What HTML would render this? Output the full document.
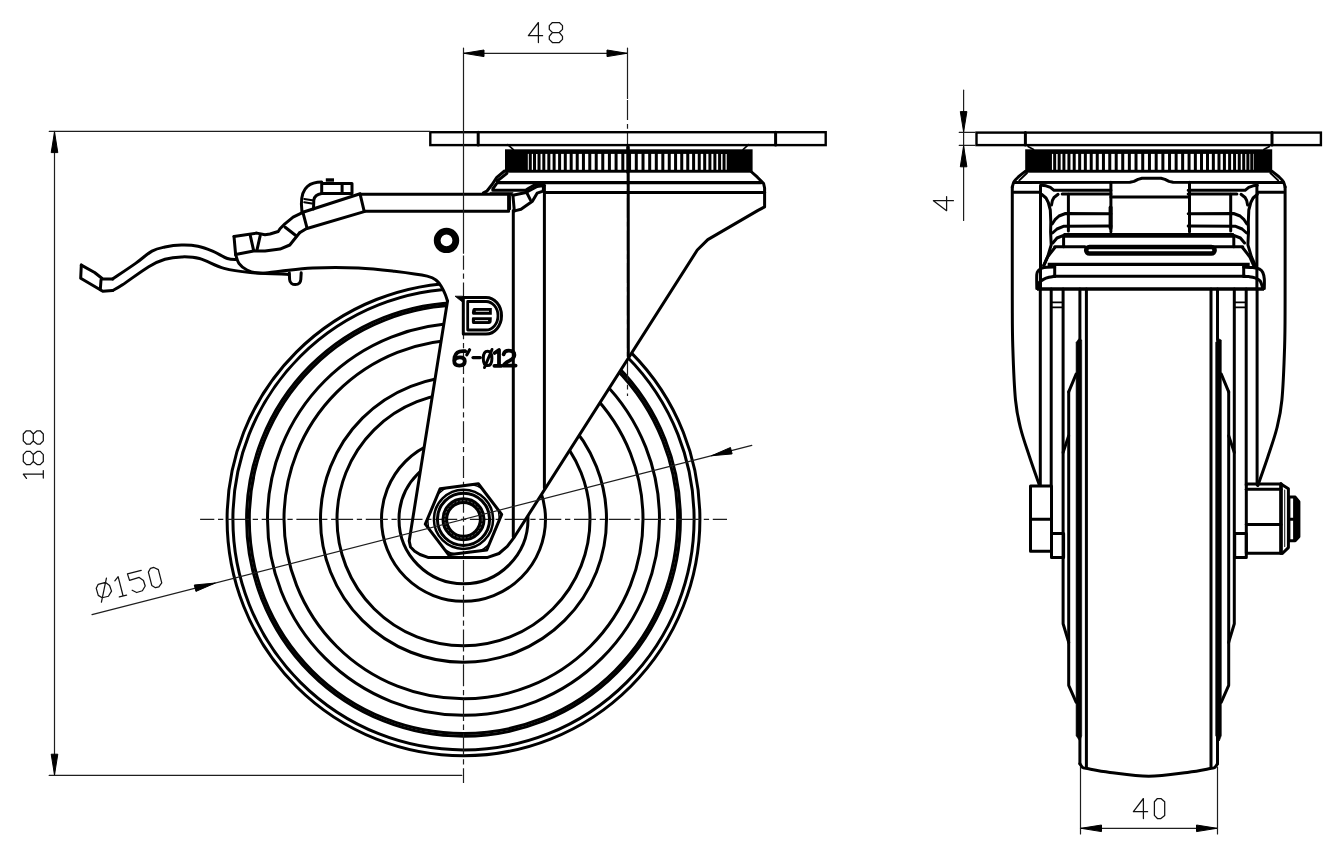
<!DOCTYPE html>
<html><head><meta charset="utf-8"><style>
html,body{margin:0;padding:0;background:#fff;width:1342px;height:856px;overflow:hidden;font-family:"Liberation Sans",sans-serif;}
svg{display:block;}
</style></head><body>
<svg width="1342" height="856" viewBox="0 0 1342 856">
<rect width="1342" height="856" fill="#fff"/>
<circle cx="463.50" cy="519.30" r="64.50" fill="none" stroke="#000" stroke-width="3.0" />
<circle cx="463.50" cy="519.30" r="82.00" fill="none" stroke="#000" stroke-width="3.0" />
<circle cx="463.50" cy="519.30" r="126.50" fill="none" stroke="#000" stroke-width="3.0" />
<circle cx="463.50" cy="519.30" r="143.00" fill="none" stroke="#000" stroke-width="3.0" />
<circle cx="463.50" cy="519.30" r="179.50" fill="none" stroke="#000" stroke-width="3.0" />
<circle cx="463.50" cy="519.30" r="196.00" fill="none" stroke="#000" stroke-width="3.0" />
<circle cx="463.50" cy="519.30" r="214.20" fill="none" stroke="#000" stroke-width="3.0" />
<circle cx="463.50" cy="519.30" r="216.90" fill="none" stroke="#000" stroke-width="3.0" />
<circle cx="463.50" cy="519.30" r="230.60" fill="none" stroke="#000" stroke-width="3.0" />
<circle cx="463.50" cy="519.30" r="236.40" fill="none" stroke="#000" stroke-width="3.0" />
<polygon points="395.00,268.00 427.20,276.10 437.00,281.00 441.90,287.50 447.50,301.00 409.20,541.00 410.50,547.00 414.70,551.30 420.00,554.50 428.60,557.60 487.00,557.60 499.00,553.50 507.30,546.30 514.50,536.80 697.30,250.00 707.80,239.60 720.00,200.00 395.00,200.00" fill="#fff" stroke="none"/>
<line x1="200.1" y1="519.3" x2="727" y2="519.3" stroke="#1e1e1e" stroke-width="1.2" stroke-dasharray="22 3.7 5.3 3.7" stroke-dashoffset="7.8"/>
<line x1="463.5" y1="255.6" x2="463.5" y2="783" stroke="#1e1e1e" stroke-width="1.2" stroke-dasharray="22 3.7 5.3 3.7" stroke-dashoffset="7.8"/>
<line x1="627.5" y1="100" x2="627.5" y2="396" stroke="#1e1e1e" stroke-width="1.2" stroke-dasharray="20 3.9 4.8 3.9"/>
<polyline points="447.50,301.00 409.20,541.00 410.50,547.00 414.70,551.30 420.00,554.50 428.60,557.60 487.00,557.60 499.00,553.50 507.30,546.30 514.50,536.80 697.30,250.00 707.80,239.60 758.00,210.40 764.60,206.90 764.60,188.00 763.60,183.50 757.40,177.20 751.60,172.00" fill="none" stroke="#000" stroke-width="3.0" stroke-linejoin="round" stroke-linecap="round" />
<line x1="513.30" y1="210.60" x2="513.30" y2="537.00" stroke="#000" stroke-width="3.0" stroke-linecap="round" />
<line x1="544.40" y1="185.30" x2="544.40" y2="488.00" stroke="#000" stroke-width="3.0" stroke-linecap="round" />
<line x1="628.20" y1="147.00" x2="628.30" y2="356.30" stroke="#000" stroke-width="3.0" stroke-linecap="round" />
<line x1="497.50" y1="182.70" x2="761.00" y2="182.70" stroke="#000" stroke-width="3.3" stroke-linecap="round" />
<polyline points="506.90,173.40 497.50,180.80 497.50,182.50" fill="none" stroke="#000" stroke-width="3.0" stroke-linejoin="round" stroke-linecap="round" />
<line x1="545.80" y1="192.40" x2="764.60" y2="192.40" stroke="#000" stroke-width="3.0" stroke-linecap="round" />
<polyline points="504.50,171.00 496.80,177.40 492.10,184.50 486.80,191.20 483.40,192.80" fill="none" stroke="#000" stroke-width="3.0" stroke-linejoin="round" stroke-linecap="round" />
<polyline points="496.20,184.10 492.80,188.80 492.80,190.20 525.70,190.20 528.30,188.50 534.40,185.10 537.10,184.50 543.80,185.10" fill="none" stroke="#000" stroke-width="3.0" stroke-linejoin="round" stroke-linecap="round" />
<polyline points="512.90,195.20 526.00,192.50 537.10,186.50 543.80,185.50 543.10,191.20 537.10,193.20 532.40,201.20 521.00,209.30 515.60,210.60 513.60,211.30" fill="none" stroke="#000" stroke-width="3.0" stroke-linejoin="round" stroke-linecap="round" />
<line x1="512.90" y1="195.20" x2="514.30" y2="210.60" stroke="#000" stroke-width="3.0" stroke-linecap="round" />
<line x1="526.30" y1="191.80" x2="530.40" y2="199.90" stroke="#000" stroke-width="3.0" stroke-linecap="round" />
<polyline points="360.10,194.20 511.60,194.20" fill="none" stroke="#000" stroke-width="3.0" stroke-linejoin="round" stroke-linecap="round" />
<polyline points="508.60,194.20 508.60,211.30 364.20,211.30" fill="none" stroke="#000" stroke-width="3.0" stroke-linejoin="round" stroke-linecap="round" />
<line x1="360.10" y1="194.20" x2="364.20" y2="211.30" stroke="#000" stroke-width="3.0" stroke-linecap="round" />
<line x1="510.20" y1="195.90" x2="510.40" y2="209.20" stroke="#000" stroke-width="1.4" stroke-linecap="round" />
<line x1="490.10" y1="192.40" x2="512.90" y2="192.40" stroke="#1e1e1e" stroke-width="1.0" stroke-linecap="round" />
<polyline points="360.10,193.80 302.90,212.30" fill="none" stroke="#000" stroke-width="3.0" stroke-linejoin="round" stroke-linecap="round" />
<polyline points="364.20,211.60 306.20,228.70 299.60,232.80" fill="none" stroke="#000" stroke-width="3.0" stroke-linejoin="round" stroke-linecap="round" />
<line x1="302.90" y1="212.30" x2="307.00" y2="227.90" stroke="#000" stroke-width="3.0" stroke-linecap="round" />
<polyline points="302.90,212.30 293.10,217.20 284.90,223.80 280.00,228.70 278.20,231.50 270.00,234.00 265.00,234.80 256.90,233.10 234.00,236.40" fill="none" stroke="#000" stroke-width="3.0" stroke-linejoin="round" stroke-linecap="round" />
<polyline points="299.60,232.80 289.80,245.00 280.00,249.10 265.00,251.10 253.60,251.10 235.60,254.40" fill="none" stroke="#000" stroke-width="3.0" stroke-linejoin="round" stroke-linecap="round" />
<line x1="284.90" y1="227.00" x2="296.40" y2="236.00" stroke="#000" stroke-width="3.0" stroke-linecap="round" />
<line x1="234.00" y1="236.40" x2="235.60" y2="254.40" stroke="#000" stroke-width="3.0" stroke-linecap="round" />
<line x1="250.30" y1="235.60" x2="253.60" y2="250.30" stroke="#000" stroke-width="3.0" stroke-linecap="round" />
<line x1="260.20" y1="235.60" x2="256.90" y2="250.30" stroke="#000" stroke-width="3.0" stroke-linecap="round" />
<path d="M235.60,254.40 C236.15,255.90 237.00,260.80 238.90,263.40 C240.80,266.00 243.45,268.35 247.00,270.00 C250.55,271.65 254.70,273.10 260.20,273.30 C265.70,273.50 271.25,272.10 280.00,271.20 C288.75,270.30 299.62,268.45 312.70,267.90 C325.78,267.35 344.87,267.35 358.50,267.90 C372.13,268.45 383.05,269.83 394.50,271.20 C405.95,272.57 420.12,274.47 427.20,276.10 C434.28,277.73 434.55,279.10 437.00,281.00 C439.45,282.90 440.52,285.25 441.90,287.50 C443.28,289.75 444.37,292.25 445.30,294.50 C446.23,296.75 447.13,299.92 447.50,301.00" fill="none" stroke="#000" stroke-width="3.0" stroke-linejoin="round" stroke-linecap="round" />
<polyline points="81.30,265.10 94.60,272.50 102.80,279.00 112.60,279.00" fill="none" stroke="#000" stroke-width="3.0" stroke-linejoin="round" stroke-linecap="round" />
<path d="M112.60,279.00 C116.43,276.40 129.03,268.05 135.60,263.40 C142.17,258.75 147.10,253.83 152.00,251.10 C156.90,248.37 160.08,248.00 165.00,247.00 C169.92,246.00 176.02,245.23 181.50,245.10 C186.98,244.97 192.72,245.20 197.90,246.20 C203.08,247.20 207.68,249.05 212.60,251.10 C217.52,253.15 223.42,257.08 227.40,258.50 C231.38,259.92 234.98,259.42 236.50,259.60" fill="none" stroke="#000" stroke-width="3.0" stroke-linejoin="round" stroke-linecap="round" />
<polyline points="81.30,265.10 80.70,278.20 102.80,291.30 112.60,290.50" fill="none" stroke="#000" stroke-width="3.0" stroke-linejoin="round" stroke-linecap="round" />
<path d="M112.60,290.50 C114.25,289.55 116.48,288.77 122.50,284.80 C128.52,280.83 141.62,270.95 148.70,266.70 C155.78,262.45 159.53,260.93 165.00,259.30 C170.47,257.67 175.75,257.03 181.50,256.90 C187.25,256.77 192.40,256.58 199.50,258.50 C206.60,260.42 215.63,266.07 224.10,268.40 C232.57,270.73 239.48,271.50 250.30,272.50 C261.12,273.50 282.55,274.08 289.00,274.40" fill="none" stroke="#000" stroke-width="3.0" stroke-linejoin="round" stroke-linecap="round" />
<line x1="101.00" y1="280.00" x2="100.30" y2="289.70" stroke="#000" stroke-width="3.0" stroke-linecap="round" />
<path d="M302,212.3 L301.4,204 C301.4,196 303,190 307.5,186.3 C311,183.3 315.5,182 321.7,182" fill="none" stroke="#000" stroke-width="3.0" stroke-linejoin="round" stroke-linecap="round" />
<polyline points="321.70,183.50 352.00,183.50 352.00,193.60 321.70,193.60 321.70,183.50" fill="none" stroke="#000" stroke-width="3.0" stroke-linejoin="round" stroke-linecap="round" />
<line x1="342.10" y1="183.50" x2="342.10" y2="193.60" stroke="#000" stroke-width="3.0" stroke-linecap="round" />
<path d="M321.7,193.6 C317.5,194.2 314.5,196 313.8,200 L313.5,209" fill="none" stroke="#000" stroke-width="3.0" stroke-linejoin="round" stroke-linecap="round" />
<rect x="325.8" y="178.3" width="8.2" height="3.4" fill="#000"/>
<line x1="304.20" y1="202.20" x2="311.90" y2="203.40" stroke="#000" stroke-width="2.0" stroke-linecap="round" />
<line x1="304.20" y1="198.90" x2="312.30" y2="200.20" stroke="#000" stroke-width="2.0" stroke-linecap="round" />
<path d="M289.3,272.8 L289.6,279.5 C289.8,283 292.5,284.6 295.3,284.6 C298.2,284.6 300.6,283 300.8,279.5 L301.2,272.8" fill="none" stroke="#000" stroke-width="3.0" stroke-linejoin="round" stroke-linecap="round" />
<circle cx="446.50" cy="240.40" r="9.30" fill="none" stroke="#000" stroke-width="6.8" />
<rect x="430.3" y="132.2" width="395.4" height="12.9" fill="none" stroke="#000" stroke-width="2.4"/>
<line x1="478.20" y1="132.20" x2="478.20" y2="145.10" stroke="#000" stroke-width="3.0" stroke-linecap="round" />
<line x1="775.60" y1="132.20" x2="775.60" y2="145.10" stroke="#000" stroke-width="3.0" stroke-linecap="round" />
<line x1="507.70" y1="144.60" x2="513.40" y2="149.60" stroke="#000" stroke-width="1.6" stroke-linecap="round" />
<line x1="748.50" y1="144.60" x2="743.00" y2="149.60" stroke="#000" stroke-width="1.6" stroke-linecap="round" />
<rect x="505.00" y="149.3" width="247.60" height="23.4" fill="#000"/>
<line x1="528.33" y1="153.9" x2="528.33" y2="169.8" stroke="#fff" stroke-width="0.94"/>
<line x1="532.41" y1="153.9" x2="532.41" y2="169.8" stroke="#fff" stroke-width="1.23"/>
<line x1="536.78" y1="153.9" x2="536.78" y2="169.8" stroke="#fff" stroke-width="1.51"/>
<line x1="541.43" y1="153.9" x2="541.43" y2="169.8" stroke="#fff" stroke-width="1.78"/>
<line x1="546.33" y1="153.9" x2="546.33" y2="169.8" stroke="#fff" stroke-width="2.03"/>
<line x1="551.48" y1="153.9" x2="551.48" y2="169.8" stroke="#fff" stroke-width="2.26"/>
<line x1="556.86" y1="153.9" x2="556.86" y2="169.8" stroke="#fff" stroke-width="2.49"/>
<line x1="562.45" y1="153.9" x2="562.45" y2="169.8" stroke="#fff" stroke-width="2.69"/>
<line x1="568.23" y1="153.9" x2="568.23" y2="169.8" stroke="#fff" stroke-width="2.88"/>
<line x1="574.20" y1="153.9" x2="574.20" y2="169.8" stroke="#fff" stroke-width="3.05"/>
<line x1="580.33" y1="153.9" x2="580.33" y2="169.8" stroke="#fff" stroke-width="3.20"/>
<line x1="586.60" y1="153.9" x2="586.60" y2="169.8" stroke="#fff" stroke-width="3.34"/>
<line x1="593.00" y1="153.9" x2="593.00" y2="169.8" stroke="#fff" stroke-width="3.45"/>
<line x1="599.50" y1="153.9" x2="599.50" y2="169.8" stroke="#fff" stroke-width="3.55"/>
<line x1="606.09" y1="153.9" x2="606.09" y2="169.8" stroke="#fff" stroke-width="3.63"/>
<line x1="612.75" y1="153.9" x2="612.75" y2="169.8" stroke="#fff" stroke-width="3.68"/>
<line x1="619.45" y1="153.9" x2="619.45" y2="169.8" stroke="#fff" stroke-width="3.72"/>
<line x1="626.19" y1="153.9" x2="626.19" y2="169.8" stroke="#fff" stroke-width="3.74"/>
<line x1="632.93" y1="153.9" x2="632.93" y2="169.8" stroke="#fff" stroke-width="3.74"/>
<line x1="639.65" y1="153.9" x2="639.65" y2="169.8" stroke="#fff" stroke-width="3.72"/>
<line x1="646.35" y1="153.9" x2="646.35" y2="169.8" stroke="#fff" stroke-width="3.67"/>
<line x1="652.99" y1="153.9" x2="652.99" y2="169.8" stroke="#fff" stroke-width="3.61"/>
<line x1="659.57" y1="153.9" x2="659.57" y2="169.8" stroke="#fff" stroke-width="3.53"/>
<line x1="666.05" y1="153.9" x2="666.05" y2="169.8" stroke="#fff" stroke-width="3.43"/>
<line x1="672.42" y1="153.9" x2="672.42" y2="169.8" stroke="#fff" stroke-width="3.31"/>
<line x1="678.66" y1="153.9" x2="678.66" y2="169.8" stroke="#fff" stroke-width="3.17"/>
<line x1="684.75" y1="153.9" x2="684.75" y2="169.8" stroke="#fff" stroke-width="3.01"/>
<line x1="690.68" y1="153.9" x2="690.68" y2="169.8" stroke="#fff" stroke-width="2.84"/>
<line x1="696.43" y1="153.9" x2="696.43" y2="169.8" stroke="#fff" stroke-width="2.65"/>
<line x1="701.97" y1="153.9" x2="701.97" y2="169.8" stroke="#fff" stroke-width="2.44"/>
<line x1="707.30" y1="153.9" x2="707.30" y2="169.8" stroke="#fff" stroke-width="2.21"/>
<line x1="712.39" y1="153.9" x2="712.39" y2="169.8" stroke="#fff" stroke-width="1.97"/>
<line x1="717.24" y1="153.9" x2="717.24" y2="169.8" stroke="#fff" stroke-width="1.72"/>
<line x1="721.82" y1="153.9" x2="721.82" y2="169.8" stroke="#fff" stroke-width="1.45"/>
<line x1="726.13" y1="153.9" x2="726.13" y2="169.8" stroke="#fff" stroke-width="1.17"/>
<line x1="627.80" y1="147.00" x2="627.80" y2="172.20" stroke="#000" stroke-width="3.0" stroke-linecap="round" />
<defs><clipPath id="hexclip"><polygon points="501.69,514.41 486.83,549.93 448.64,554.82 425.31,524.19 440.17,488.67 478.36,483.78"/></clipPath></defs>
<polygon points="501.69,514.41 486.83,549.93 448.64,554.82 425.31,524.19 440.17,488.67 478.36,483.78" fill="none" stroke="#000" stroke-width="3.0" stroke-linejoin="round"/>
<circle cx="463.50" cy="519.30" r="35.80" fill="none" stroke="#000" stroke-width="1.5" clip-path="url(#hexclip)"/>
<circle cx="463.50" cy="519.30" r="29.60" fill="none" stroke="#000" stroke-width="2.5" />
<circle cx="463.50" cy="519.30" r="26.10" fill="none" stroke="#000" stroke-width="3.0" />
<circle cx="463.50" cy="519.30" r="18.70" fill="none" stroke="#000" stroke-width="6.6" />
<circle cx="463.5" cy="519.3" r="18.7" fill="none" stroke="#fff" stroke-width="0.5" stroke-opacity="0.7" stroke-dasharray="2.2 1.6"/>
<polygon points="455,296.2 462.8,296.2 462.8,302.3" fill="#000" stroke="#000" stroke-width="0.8" stroke-linejoin="round"/>
<path d="M463.3,297.5 L463.3,334 L486,334 A15.5,18.25 0 0 0 486,297.5 Z" fill="none" stroke="#000" stroke-width="3.0" stroke-linejoin="round" stroke-linecap="round" />
<path d="M467.7,301.5 L467.7,330 L486,330 A12,14.25 0 0 0 486,301.5 Z" fill="none" stroke="#000" stroke-width="2.8" stroke-linejoin="round" stroke-linecap="round" />
<path d="M474,308 L491.8,308 L491.8,314.7 L473.2,314.7 Q471.9,314.7 471.9,312.8 L472.3,310 Q472.8,308 474,308 Z" fill="#000"/>
<path d="M472.6,317.2 L491.8,317.2 L491.6,322 Q491,324 489,324 L473.2,324 Q471.9,324 471.9,322 L471.9,319 Q471.9,317.2 472.6,317.2 Z" fill="#000"/>
<line x1="475.8" y1="311.3" x2="489" y2="311.3" stroke="#fff" stroke-width="0.9"/>
<line x1="475" y1="320.6" x2="488.1" y2="320.6" stroke="#fff" stroke-width="0.9"/>
<path d="M465.2,351.2 C460,350.6 455.8,352.2 454.6,357 L454.2,360.8 C454.2,364.3 456.3,365.6 459.3,365.6 C462.6,365.6 464.8,364.2 464.8,361.3 C464.8,358.6 463,357.4 459.9,357.4 C457.2,357.4 455.3,358.3 454.4,360" fill="none" stroke="#000" stroke-width="3.8" stroke-linejoin="round" stroke-linecap="round" />
<path d="M469.6,349.8 L466.8,354.8" fill="none" stroke="#000" stroke-width="3.2" stroke-linejoin="round" stroke-linecap="round" />
<path d="M473,357.6 L480.3,357.6" fill="none" stroke="#000" stroke-width="3.2" stroke-linejoin="round" stroke-linecap="round" />
<path d="M487.6,351.2 C484.6,351.2 483.3,354 483.3,358.4 C483.3,362.8 484.8,365.6 487.6,365.6 C490.5,365.6 491.9,362.8 491.9,358.4 C491.9,354 490.5,351.2 487.6,351.2 Z M484.5,367.5 L492,349.5" fill="none" stroke="#000" stroke-width="3.0" stroke-linejoin="round" stroke-linecap="round" />
<path d="M494.6,353 L499,350 L499,365.6 M494.4,365.8 L501.4,365.8" fill="none" stroke="#000" stroke-width="3.8" stroke-linejoin="round" stroke-linecap="round" />
<path d="M503.6,354.4 C504.2,351.6 506.2,350.6 508.8,350.6 C512.4,350.6 514.4,352.2 514.4,355 C514.4,357.4 512.6,359 509.6,360.6 C506,362.4 504,363.6 503.6,365.6 L515.6,365.6" fill="none" stroke="#000" stroke-width="3.8" stroke-linejoin="round" stroke-linecap="round" />
<line x1="463.50" y1="48.00" x2="463.50" y2="253.20" stroke="#1e1e1e" stroke-width="1.2" stroke-linecap="round" />
<line x1="627.50" y1="48.00" x2="627.50" y2="98.40" stroke="#1e1e1e" stroke-width="1.2" stroke-linecap="round" />
<line x1="463.50" y1="53.30" x2="627.50" y2="53.30" stroke="#1e1e1e" stroke-width="1.2" stroke-linecap="round" />
<polygon points="464.00,53.30 484.00,50.00 484.00,56.60" fill="#000" stroke="#000" stroke-width="1" stroke-linejoin="round"/>
<polygon points="627.00,53.30 607.00,56.60 607.00,50.00" fill="#000" stroke="#000" stroke-width="1" stroke-linejoin="round"/>
<path transform="translate(528.40,42.50)" d="M10,0 V-20 L0,-6.8 H14.2" fill="none" stroke="#111" stroke-width="1.25" stroke-linejoin="round" stroke-linecap="round"/>
<path transform="translate(549.30,42.50)" d="M3.1,-20 H10 L13.2,-16.9 V-13.1 L10,-10 H3.1 L0,-13.1 V-16.9 Z M3.1,-10 H10 L13.2,-6.2 V-3.1 L10,0 H3.1 L0,-3.1 V-6.2 Z" fill="none" stroke="#111" stroke-width="1.25" stroke-linejoin="round" stroke-linecap="round"/>
<line x1="49.20" y1="131.30" x2="430.00" y2="131.30" stroke="#1e1e1e" stroke-width="1.2" stroke-linecap="round" />
<line x1="49.20" y1="775.40" x2="461.80" y2="775.40" stroke="#1e1e1e" stroke-width="1.2" stroke-linecap="round" />
<line x1="54.50" y1="131.40" x2="54.50" y2="775.40" stroke="#1e1e1e" stroke-width="1.2" stroke-linecap="round" />
<polygon points="54.50,131.90 57.80,152.60 51.20,152.60" fill="#000" stroke="#000" stroke-width="1" stroke-linejoin="round"/>
<polygon points="54.50,774.90 51.20,754.20 57.80,754.20" fill="#000" stroke="#000" stroke-width="1" stroke-linejoin="round"/>
<g transform="translate(43.3,478.4) rotate(-90)">
<path transform="translate(0.00,0.00)" d="M0,-16.8 L4.2,-20 V0 M0.3,0 H7.8" fill="none" stroke="#111" stroke-width="1.25" stroke-linejoin="round" stroke-linecap="round"/>
<path transform="translate(13.80,0.00)" d="M3.1,-20 H10 L13.2,-16.9 V-13.1 L10,-10 H3.1 L0,-13.1 V-16.9 Z M3.1,-10 H10 L13.2,-6.2 V-3.1 L10,0 H3.1 L0,-3.1 V-6.2 Z" fill="none" stroke="#111" stroke-width="1.25" stroke-linejoin="round" stroke-linecap="round"/>
<path transform="translate(34.40,0.00)" d="M3.1,-20 H10 L13.2,-16.9 V-13.1 L10,-10 H3.1 L0,-13.1 V-16.9 Z M3.1,-10 H10 L13.2,-6.2 V-3.1 L10,0 H3.1 L0,-3.1 V-6.2 Z" fill="none" stroke="#111" stroke-width="1.25" stroke-linejoin="round" stroke-linecap="round"/>
</g>
<line x1="92.00" y1="614.70" x2="751.80" y2="445.40" stroke="#1e1e1e" stroke-width="1.2" stroke-linecap="round" />
<polygon points="215.32,583.02 195.92,591.40 194.28,585.00" fill="#000" stroke="#000" stroke-width="1" stroke-linejoin="round"/>
<polygon points="711.48,455.78 730.48,447.50 732.12,453.90" fill="#000" stroke="#000" stroke-width="1" stroke-linejoin="round"/>
<g transform="translate(123.1,596) rotate(-14.4)">
<path transform="translate(-24.10,0.00)" d="M2.9,-17.5 L10.5,-17.5 L13.6,-13.5 L14.1,-7.6 L9.8,-3.4 L3.4,-3.5 L0.2,-6.8 L0,-14.1 Z M1.6,0.5 L12.4,-21.5" fill="none" stroke="#111" stroke-width="1.25" stroke-linejoin="round" stroke-linecap="round"/>
<path transform="translate(-4.20,0.00)" d="M0,-16.8 L4.2,-20 V0 M0.3,0 H7.8" fill="none" stroke="#111" stroke-width="1.25" stroke-linejoin="round" stroke-linecap="round"/>
<path transform="translate(9.70,0.00)" d="M14.2,-20.3 H0 L0.4,-13.5 L10.5,-14 L13.9,-10 L14.2,-4.2 L10.3,-0.3 L4.3,0 L0.5,-3.3" fill="none" stroke="#111" stroke-width="1.25" stroke-linejoin="round" stroke-linecap="round"/>
<path transform="translate(30.40,0.00)" d="M3,-20 H6.5 L10.3,-16.8 V-3.1 L6.5,0 H3 L0,-3.1 V-16.8 Z" fill="none" stroke="#111" stroke-width="1.25" stroke-linejoin="round" stroke-linecap="round"/>
</g>
<rect x="976.5" y="132.6" width="344.4" height="12.5" fill="none" stroke="#000" stroke-width="2.4"/>
<line x1="1025.40" y1="132.60" x2="1025.40" y2="145.10" stroke="#000" stroke-width="3.0" stroke-linecap="round" />
<line x1="1272.00" y1="132.60" x2="1272.00" y2="145.10" stroke="#000" stroke-width="3.0" stroke-linecap="round" />
<line x1="1028.00" y1="146.50" x2="1033.60" y2="149.50" stroke="#000" stroke-width="1.6" stroke-linecap="round" />
<line x1="1269.40" y1="146.50" x2="1263.80" y2="149.50" stroke="#000" stroke-width="1.6" stroke-linecap="round" />
<rect x="1025.20" y="149.3" width="247.00" height="23.4" fill="#000"/>
<line x1="1052.55" y1="153.9" x2="1052.55" y2="169.8" stroke="#fff" stroke-width="1.22"/>
<line x1="1056.91" y1="153.9" x2="1056.91" y2="169.8" stroke="#fff" stroke-width="1.50"/>
<line x1="1061.54" y1="153.9" x2="1061.54" y2="169.8" stroke="#fff" stroke-width="1.76"/>
<line x1="1066.43" y1="153.9" x2="1066.43" y2="169.8" stroke="#fff" stroke-width="2.02"/>
<line x1="1071.57" y1="153.9" x2="1071.57" y2="169.8" stroke="#fff" stroke-width="2.25"/>
<line x1="1076.93" y1="153.9" x2="1076.93" y2="169.8" stroke="#fff" stroke-width="2.47"/>
<line x1="1082.51" y1="153.9" x2="1082.51" y2="169.8" stroke="#fff" stroke-width="2.68"/>
<line x1="1088.28" y1="153.9" x2="1088.28" y2="169.8" stroke="#fff" stroke-width="2.87"/>
<line x1="1094.23" y1="153.9" x2="1094.23" y2="169.8" stroke="#fff" stroke-width="3.04"/>
<line x1="1100.35" y1="153.9" x2="1100.35" y2="169.8" stroke="#fff" stroke-width="3.19"/>
<line x1="1106.60" y1="153.9" x2="1106.60" y2="169.8" stroke="#fff" stroke-width="3.32"/>
<line x1="1112.98" y1="153.9" x2="1112.98" y2="169.8" stroke="#fff" stroke-width="3.44"/>
<line x1="1119.47" y1="153.9" x2="1119.47" y2="169.8" stroke="#fff" stroke-width="3.53"/>
<line x1="1126.05" y1="153.9" x2="1126.05" y2="169.8" stroke="#fff" stroke-width="3.61"/>
<line x1="1132.69" y1="153.9" x2="1132.69" y2="169.8" stroke="#fff" stroke-width="3.67"/>
<line x1="1139.38" y1="153.9" x2="1139.38" y2="169.8" stroke="#fff" stroke-width="3.71"/>
<line x1="1146.09" y1="153.9" x2="1146.09" y2="169.8" stroke="#fff" stroke-width="3.72"/>
<line x1="1152.82" y1="153.9" x2="1152.82" y2="169.8" stroke="#fff" stroke-width="3.72"/>
<line x1="1159.53" y1="153.9" x2="1159.53" y2="169.8" stroke="#fff" stroke-width="3.70"/>
<line x1="1166.21" y1="153.9" x2="1166.21" y2="169.8" stroke="#fff" stroke-width="3.66"/>
<line x1="1172.84" y1="153.9" x2="1172.84" y2="169.8" stroke="#fff" stroke-width="3.60"/>
<line x1="1179.39" y1="153.9" x2="1179.39" y2="169.8" stroke="#fff" stroke-width="3.51"/>
<line x1="1185.86" y1="153.9" x2="1185.86" y2="169.8" stroke="#fff" stroke-width="3.41"/>
<line x1="1192.21" y1="153.9" x2="1192.21" y2="169.8" stroke="#fff" stroke-width="3.29"/>
<line x1="1198.44" y1="153.9" x2="1198.44" y2="169.8" stroke="#fff" stroke-width="3.16"/>
<line x1="1204.52" y1="153.9" x2="1204.52" y2="169.8" stroke="#fff" stroke-width="3.00"/>
<line x1="1210.43" y1="153.9" x2="1210.43" y2="169.8" stroke="#fff" stroke-width="2.82"/>
<line x1="1216.16" y1="153.9" x2="1216.16" y2="169.8" stroke="#fff" stroke-width="2.63"/>
<line x1="1221.69" y1="153.9" x2="1221.69" y2="169.8" stroke="#fff" stroke-width="2.42"/>
<line x1="1227.01" y1="153.9" x2="1227.01" y2="169.8" stroke="#fff" stroke-width="2.20"/>
<line x1="1232.09" y1="153.9" x2="1232.09" y2="169.8" stroke="#fff" stroke-width="1.96"/>
<line x1="1236.92" y1="153.9" x2="1236.92" y2="169.8" stroke="#fff" stroke-width="1.71"/>
<line x1="1241.50" y1="153.9" x2="1241.50" y2="169.8" stroke="#fff" stroke-width="1.44"/>
<line x1="1245.79" y1="153.9" x2="1245.79" y2="169.8" stroke="#fff" stroke-width="1.16"/>
<line x1="1249.80" y1="153.9" x2="1249.80" y2="169.8" stroke="#fff" stroke-width="0.86"/>
<line x1="1253.51" y1="153.9" x2="1253.51" y2="169.8" stroke="#fff" stroke-width="0.56"/>
<path d="M1025.20,171.40 C1024.02,172.37 1019.97,175.48 1018.10,177.20 C1016.23,178.92 1014.97,180.07 1014.00,181.70 C1013.03,183.33 1012.58,186.12 1012.30,187.00" fill="none" stroke="#000" stroke-width="3.0" stroke-linejoin="round" stroke-linecap="round" />
<path d="M1012.30,187.00 C1012.30,205.83 1012.22,273.33 1012.30,300.00 C1012.38,326.67 1012.27,330.33 1012.80,347.00 C1013.33,363.67 1014.22,386.50 1015.50,400.00 C1016.78,413.50 1018.15,418.50 1020.50,428.00 C1022.85,437.50 1026.43,447.42 1029.60,457.00 C1032.77,466.58 1037.85,480.75 1039.50,485.50" fill="none" stroke="#000" stroke-width="3.0" stroke-linejoin="round" stroke-linecap="round" />
<path d="M1272.20,171.40 C1273.38,172.37 1277.43,175.48 1279.30,177.20 C1281.17,178.92 1282.43,180.07 1283.40,181.70 C1284.37,183.33 1284.82,186.12 1285.10,187.00" fill="none" stroke="#000" stroke-width="3.0" stroke-linejoin="round" stroke-linecap="round" />
<path d="M1285.10,187.00 C1285.10,205.83 1285.18,273.33 1285.10,300.00 C1285.02,326.67 1285.13,330.33 1284.60,347.00 C1284.07,363.67 1283.18,386.50 1281.90,400.00 C1280.62,413.50 1279.25,418.50 1276.90,428.00 C1274.55,437.50 1270.97,447.42 1267.80,457.00 C1264.63,466.58 1259.55,480.75 1257.90,485.50" fill="none" stroke="#000" stroke-width="3.0" stroke-linejoin="round" stroke-linecap="round" />
<polyline points="1027.00,173.00 1019.30,180.40" fill="none" stroke="#000" stroke-width="2" stroke-linejoin="round" stroke-linecap="round" />
<polyline points="1270.40,173.00 1278.10,180.40" fill="none" stroke="#000" stroke-width="2" stroke-linejoin="round" stroke-linecap="round" />
<polyline points="1014.00,182.40 1130.00,182.30 1134.00,181.40 1138.00,179.40 1142.00,178.30 1161.00,178.30 1165.00,179.40 1169.00,181.40 1173.00,182.30 1283.40,182.40" fill="none" stroke="#000" stroke-width="3.0" stroke-linejoin="round" stroke-linecap="round" />
<line x1="1014.00" y1="192.30" x2="1039.30" y2="192.30" stroke="#000" stroke-width="3.0" stroke-linecap="round" />
<line x1="1283.40" y1="192.30" x2="1258.10" y2="192.30" stroke="#000" stroke-width="3.0" stroke-linecap="round" />
<line x1="1040.50" y1="185.30" x2="1040.50" y2="289.00" stroke="#000" stroke-width="3.0" stroke-linecap="round" />
<line x1="1256.90" y1="185.30" x2="1256.90" y2="289.00" stroke="#000" stroke-width="3.0" stroke-linecap="round" />
<polyline points="1041.80,185.30 1046.00,185.80 1050.40,187.40 1054.00,190.30 1110.90,190.30" fill="none" stroke="#000" stroke-width="3.0" stroke-linejoin="round" stroke-linecap="round" />
<polyline points="1257.30,185.30 1253.10,185.80 1248.70,187.40 1245.10,190.30 1188.20,190.30" fill="none" stroke="#000" stroke-width="3.0" stroke-linejoin="round" stroke-linecap="round" />
<polyline points="1062.20,194.00 1110.90,194.00" fill="none" stroke="#000" stroke-width="3.0" stroke-linejoin="round" stroke-linecap="round" />
<polyline points="1236.90,194.00 1188.20,194.00" fill="none" stroke="#000" stroke-width="3.0" stroke-linejoin="round" stroke-linecap="round" />
<line x1="1068.40" y1="194.30" x2="1068.40" y2="230.90" stroke="#000" stroke-width="3.0" stroke-linecap="round" />
<line x1="1230.70" y1="194.30" x2="1230.70" y2="230.90" stroke="#000" stroke-width="3.0" stroke-linecap="round" />
<polyline points="1041.80,194.30 1046.00,198.00 1048.30,202.50 1050.30,210.00 1050.80,222.00 1050.60,232.00 1051.20,244.80 1047.70,256.70 1043.70,265.60" fill="none" stroke="#000" stroke-width="3.0" stroke-linejoin="round" stroke-linecap="round" />
<polyline points="1257.30,194.30 1253.10,198.00 1250.80,202.50 1248.80,210.00 1248.30,222.00 1248.50,232.00 1247.90,244.80 1251.40,256.70 1255.40,265.60" fill="none" stroke="#000" stroke-width="3.0" stroke-linejoin="round" stroke-linecap="round" />
<polyline points="1058.10,194.30 1054.00,197.50 1052.40,200.50 1051.50,205.00" fill="none" stroke="#000" stroke-width="3.0" stroke-linejoin="round" stroke-linecap="round" />
<polyline points="1241.00,194.30 1245.10,197.50 1246.70,200.50 1247.60,205.00" fill="none" stroke="#000" stroke-width="3.0" stroke-linejoin="round" stroke-linecap="round" />
<polyline points="1110.90,213.80 1065.50,213.50 1059.00,216.00 1055.00,219.70 1052.20,224.00" fill="none" stroke="#000" stroke-width="3.0" stroke-linejoin="round" stroke-linecap="round" />
<polyline points="1188.20,213.80 1233.60,213.50 1240.10,216.00 1244.10,219.70 1246.90,224.00" fill="none" stroke="#000" stroke-width="3.0" stroke-linejoin="round" stroke-linecap="round" />
<polyline points="1110.90,226.10 1064.00,226.20 1057.00,229.00 1052.50,233.00" fill="none" stroke="#000" stroke-width="3.0" stroke-linejoin="round" stroke-linecap="round" />
<polyline points="1188.20,226.10 1235.10,226.20 1242.10,229.00 1246.60,233.00" fill="none" stroke="#000" stroke-width="3.0" stroke-linejoin="round" stroke-linecap="round" />
<line x1="1063.6" y1="235.4" x2="1233.80" y2="235.4" stroke="#000" stroke-width="4.6"/>
<polyline points="1063.60,235.40 1057.00,238.00 1052.80,243.00" fill="none" stroke="#000" stroke-width="3.0" stroke-linejoin="round" stroke-linecap="round" />
<polyline points="1233.80,235.40 1240.40,238.00 1244.60,243.00" fill="none" stroke="#000" stroke-width="3.0" stroke-linejoin="round" stroke-linecap="round" />
<line x1="1063.60" y1="235.90" x2="1063.60" y2="246.80" stroke="#000" stroke-width="3.0" stroke-linecap="round" />
<line x1="1233.80" y1="235.90" x2="1233.80" y2="246.80" stroke="#000" stroke-width="3.0" stroke-linecap="round" />
<polyline points="1054.70,246.80 1085.00,246.80" fill="none" stroke="#000" stroke-width="3.0" stroke-linejoin="round" stroke-linecap="round" />
<polyline points="1242.70,246.80 1212.40,246.80" fill="none" stroke="#000" stroke-width="3.0" stroke-linejoin="round" stroke-linecap="round" />
<polyline points="1054.70,247.80 1047.70,256.70 1043.70,265.60" fill="none" stroke="#000" stroke-width="3.0" stroke-linejoin="round" stroke-linecap="round" />
<polyline points="1242.70,247.80 1249.70,256.70 1253.70,265.60" fill="none" stroke="#000" stroke-width="3.0" stroke-linejoin="round" stroke-linecap="round" />
<rect x="1086.2" y="247" width="128.4" height="6.5" rx="3.25" fill="none" stroke="#000" stroke-width="4.6"/>
<line x1="1047.7" y1="264.4" x2="1249.70" y2="264.4" stroke="#000" stroke-width="3.4"/>
<path d="M1036.80,288.50 C1036.80,286.17 1036.52,277.50 1036.80,274.50 C1037.08,271.50 1037.63,271.55 1038.50,270.50 C1039.37,269.45 1040.58,268.73 1042.00,268.20 C1043.42,267.67 1044.88,267.48 1047.00,267.30 C1049.12,267.12 1053.42,267.13 1054.70,267.10" fill="none" stroke="#000" stroke-width="3.0" stroke-linejoin="round" stroke-linecap="round" />
<path d="M1037.60,287.50 C1037.88,286.65 1038.32,283.77 1039.30,282.40 C1040.28,281.03 1041.88,280.15 1043.50,279.30 C1045.12,278.45 1047.13,277.78 1049.00,277.30 C1050.87,276.82 1053.75,276.55 1054.70,276.40" fill="none" stroke="#000" stroke-width="3.0" stroke-linejoin="round" stroke-linecap="round" />
<line x1="1054.70" y1="266.60" x2="1054.70" y2="276.20" stroke="#000" stroke-width="3.0" stroke-linecap="round" />
<path d="M1264.30,288.50 C1264.30,286.92 1264.55,281.67 1264.30,279.00 C1264.05,276.33 1263.58,274.13 1262.80,272.50 C1262.02,270.87 1261.23,270.03 1259.60,269.20 C1257.97,268.37 1255.65,267.85 1253.00,267.50 C1250.35,267.15 1245.25,267.17 1243.70,267.10" fill="none" stroke="#000" stroke-width="3.0" stroke-linejoin="round" stroke-linecap="round" />
<path d="M1262.60,287.70 C1262.20,286.58 1261.47,282.65 1260.20,281.00 C1258.93,279.35 1256.87,278.53 1255.00,277.80 C1253.13,277.07 1250.88,276.83 1249.00,276.60 C1247.12,276.37 1244.58,276.43 1243.70,276.40" fill="none" stroke="#000" stroke-width="3.0" stroke-linejoin="round" stroke-linecap="round" />
<line x1="1243.70" y1="266.60" x2="1243.70" y2="276.20" stroke="#000" stroke-width="3.0" stroke-linecap="round" />
<line x1="1052.7" y1="276.3" x2="1245.7" y2="276.3" stroke="#000" stroke-width="3.0"/>
<line x1="1037" y1="289" x2="1264.00" y2="289" stroke="#000" stroke-width="3.6"/>
<polyline points="1110.90,182.20 1110.90,231.80" fill="none" stroke="#000" stroke-width="3.0" stroke-linejoin="round" stroke-linecap="round" />
<polyline points="1189.50,182.20 1189.50,231.80" fill="none" stroke="#000" stroke-width="3.0" stroke-linejoin="round" stroke-linecap="round" />
<line x1="1110.90" y1="197.10" x2="1189.50" y2="197.10" stroke="#000" stroke-width="3.0" stroke-linecap="round" />
<line x1="1110.60" y1="207.50" x2="1110.60" y2="228.00" stroke="#000" stroke-width="4" stroke-linecap="round" />
<line x1="1040.30" y1="289.00" x2="1040.30" y2="484.70" stroke="#000" stroke-width="3.0" stroke-linecap="round" />
<line x1="1257.10" y1="289.00" x2="1257.10" y2="484.70" stroke="#000" stroke-width="3.0" stroke-linecap="round" />
<line x1="1051.20" y1="289.00" x2="1051.20" y2="485.00" stroke="#000" stroke-width="3.0" stroke-linecap="round" />
<line x1="1246.20" y1="289.00" x2="1246.20" y2="485.00" stroke="#000" stroke-width="3.0" stroke-linecap="round" />
<polyline points="1063.10,289.00 1063.10,623.70 1068.70,642.40 1068.70,685.30 1076.10,702.10" fill="none" stroke="#000" stroke-width="3.0" stroke-linejoin="round" stroke-linecap="round" />
<polyline points="1234.30,289.00 1234.30,623.70 1228.70,642.40 1228.70,685.30 1221.30,702.10" fill="none" stroke="#000" stroke-width="3.0" stroke-linejoin="round" stroke-linecap="round" />
<line x1="1068.70" y1="391.80" x2="1068.70" y2="642.40" stroke="#000" stroke-width="3.0" stroke-linecap="round" />
<line x1="1228.70" y1="391.80" x2="1228.70" y2="642.40" stroke="#000" stroke-width="3.0" stroke-linecap="round" />
<polyline points="1076.10,374.10 1068.70,391.80" fill="none" stroke="#000" stroke-width="3.0" stroke-linejoin="round" stroke-linecap="round" />
<polyline points="1221.30,374.10 1228.70,391.80" fill="none" stroke="#000" stroke-width="3.0" stroke-linejoin="round" stroke-linecap="round" />
<polyline points="1068.70,435.70 1063.10,452.50" fill="none" stroke="#000" stroke-width="3.0" stroke-linejoin="round" stroke-linecap="round" />
<polyline points="1228.70,435.70 1234.30,452.50" fill="none" stroke="#000" stroke-width="3.0" stroke-linejoin="round" stroke-linecap="round" />
<polygon points="1076.10,342.4 1078.90,338.7 1081.70,340 1081.70,735.7 1079.70,741 1076.10,735.7" fill="#000" stroke="#000" stroke-width="0.6"/>
<polygon points="1215.70,342.4 1218.50,338.7 1221.30,340 1221.30,735.7 1219.30,741 1215.70,735.7" fill="#000" stroke="#000" stroke-width="0.6"/>
<line x1="1079.90" y1="289.00" x2="1079.90" y2="340.00" stroke="#000" stroke-width="3.0" stroke-linecap="round" />
<line x1="1217.50" y1="289.00" x2="1217.50" y2="340.00" stroke="#000" stroke-width="3.0" stroke-linecap="round" />
<line x1="1079.90" y1="736.00" x2="1079.90" y2="763.70" stroke="#000" stroke-width="3.0" stroke-linecap="round" />
<line x1="1217.50" y1="736.00" x2="1217.50" y2="763.70" stroke="#000" stroke-width="3.0" stroke-linecap="round" />
<line x1="1086.40" y1="289.00" x2="1086.40" y2="767.40" stroke="#000" stroke-width="3.0" stroke-linecap="round" />
<line x1="1211.00" y1="289.00" x2="1211.00" y2="767.40" stroke="#000" stroke-width="3.0" stroke-linecap="round" />
<line x1="1052.00" y1="302.40" x2="1063.00" y2="302.40" stroke="#000" stroke-width="1.6" stroke-linecap="round" />
<line x1="1245.40" y1="302.40" x2="1234.40" y2="302.40" stroke="#000" stroke-width="1.6" stroke-linecap="round" />
<line x1="1052.00" y1="307.40" x2="1063.00" y2="307.40" stroke="#000" stroke-width="1.6" stroke-linecap="round" />
<line x1="1245.40" y1="307.40" x2="1234.40" y2="307.40" stroke="#000" stroke-width="1.6" stroke-linecap="round" />
<path d="M1079.90,763.70 C1080.35,764.32 1081.37,766.58 1082.60,767.40 C1083.83,768.22 1082.73,767.77 1087.30,768.60 C1091.87,769.43 1099.77,771.13 1110.00,772.40 C1120.23,773.67 1135.80,776.20 1148.70,776.20 C1161.60,776.20 1177.17,773.67 1187.40,772.40 C1197.63,771.13 1205.53,769.43 1210.10,768.60 C1214.67,767.77 1213.57,768.22 1214.80,767.40 C1216.03,766.58 1217.05,764.32 1217.50,763.70" fill="none" stroke="#000" stroke-width="3.0" stroke-linejoin="round" stroke-linecap="round" />
<polygon points="1030.50,486.00 1051.50,486.00 1051.50,551.20 1030.50,551.20" fill="none" stroke="#000" stroke-width="3.0" stroke-linejoin="round" stroke-linecap="round" />
<line x1="1030.50" y1="519.20" x2="1051.50" y2="519.20" stroke="#000" stroke-width="3.0" stroke-linecap="round" />
<polygon points="1051.50,533.40 1063.60,533.40 1063.60,557.50 1051.50,557.50" fill="none" stroke="#000" stroke-width="3.0" stroke-linejoin="round" stroke-linecap="round" />
<polygon points="1246.30,483.90 1281.00,483.90 1281.00,553.30 1246.30,553.30" fill="none" stroke="#000" stroke-width="3.0" stroke-linejoin="round" stroke-linecap="round" />
<line x1="1246.30" y1="489.20" x2="1281.00" y2="489.20" stroke="#000" stroke-width="3.0" stroke-linecap="round" />
<line x1="1246.30" y1="524.40" x2="1281.00" y2="524.40" stroke="#000" stroke-width="3.0" stroke-linecap="round" />
<line x1="1281.00" y1="483.90" x2="1281.00" y2="553.30" stroke="#000" stroke-width="3.4" stroke-linecap="round" />
<polyline points="1281.00,483.90 1288.40,488.70 1288.40,547.60 1282.60,553.30" fill="none" stroke="#000" stroke-width="3.0" stroke-linejoin="round" stroke-linecap="round" />
<line x1="1284.70" y1="490.00" x2="1284.70" y2="546.50" stroke="#1e1e1e" stroke-width="1.1" stroke-linecap="round" />
<polygon points="1288.90,497.10 1295.20,497.10 1298.90,501.80 1298.90,536.80 1295.20,540.70 1288.90,540.70" fill="none" stroke="#000" stroke-width="3.0" stroke-linejoin="round" stroke-linecap="round" />
<polygon points="1293.1,497.1 1295.2,497.1 1298.9,501.8 1298.9,536.8 1295.2,540.7 1293.1,540.7" fill="#000"/>
<line x1="1288.90" y1="519.20" x2="1293.10" y2="519.20" stroke="#000" stroke-width="3.0" stroke-linecap="round" />
<polygon points="1234.70,533.40 1246.30,533.40 1246.30,557.50 1234.70,557.50" fill="none" stroke="#000" stroke-width="3.0" stroke-linejoin="round" stroke-linecap="round" />
<line x1="963.60" y1="90.20" x2="963.60" y2="220.40" stroke="#1e1e1e" stroke-width="1.2" stroke-linecap="round" />
<line x1="959.20" y1="132.30" x2="975.00" y2="132.30" stroke="#1e1e1e" stroke-width="1.2" stroke-linecap="round" />
<line x1="959.20" y1="145.30" x2="975.00" y2="145.30" stroke="#1e1e1e" stroke-width="1.2" stroke-linecap="round" />
<polygon points="963.60,131.80 960.30,111.60 966.90,111.60" fill="#000" stroke="#000" stroke-width="1" stroke-linejoin="round"/>
<polygon points="963.60,145.80 966.90,166.80 960.30,166.80" fill="#000" stroke="#000" stroke-width="1" stroke-linejoin="round"/>
<g transform="translate(953.4,210.7) rotate(-90)">
<path transform="translate(0.00,0.00)" d="M10,0 V-20 L0,-6.8 H14.2" fill="none" stroke="#111" stroke-width="1.25" stroke-linejoin="round" stroke-linecap="round"/>
</g>
<line x1="1080.50" y1="767.00" x2="1080.50" y2="833.90" stroke="#1e1e1e" stroke-width="1.2" stroke-linecap="round" />
<line x1="1217.50" y1="767.00" x2="1217.50" y2="833.90" stroke="#1e1e1e" stroke-width="1.2" stroke-linecap="round" />
<line x1="1080.50" y1="828.30" x2="1217.50" y2="828.30" stroke="#1e1e1e" stroke-width="1.2" stroke-linecap="round" />
<polygon points="1081.00,828.30 1101.50,825.00 1101.50,831.60" fill="#000" stroke="#000" stroke-width="1" stroke-linejoin="round"/>
<polygon points="1217.00,828.30 1196.50,831.60 1196.50,825.00" fill="#000" stroke="#000" stroke-width="1" stroke-linejoin="round"/>
<path transform="translate(1133.40,818.50)" d="M10,0 V-20 L0,-6.8 H14.2" fill="none" stroke="#111" stroke-width="1.25" stroke-linejoin="round" stroke-linecap="round"/>
<path transform="translate(1154.40,818.50)" d="M3,-20 H6.5 L10.3,-16.8 V-3.1 L6.5,0 H3 L0,-3.1 V-16.8 Z" fill="none" stroke="#111" stroke-width="1.25" stroke-linejoin="round" stroke-linecap="round"/>
</svg>
</body></html>
